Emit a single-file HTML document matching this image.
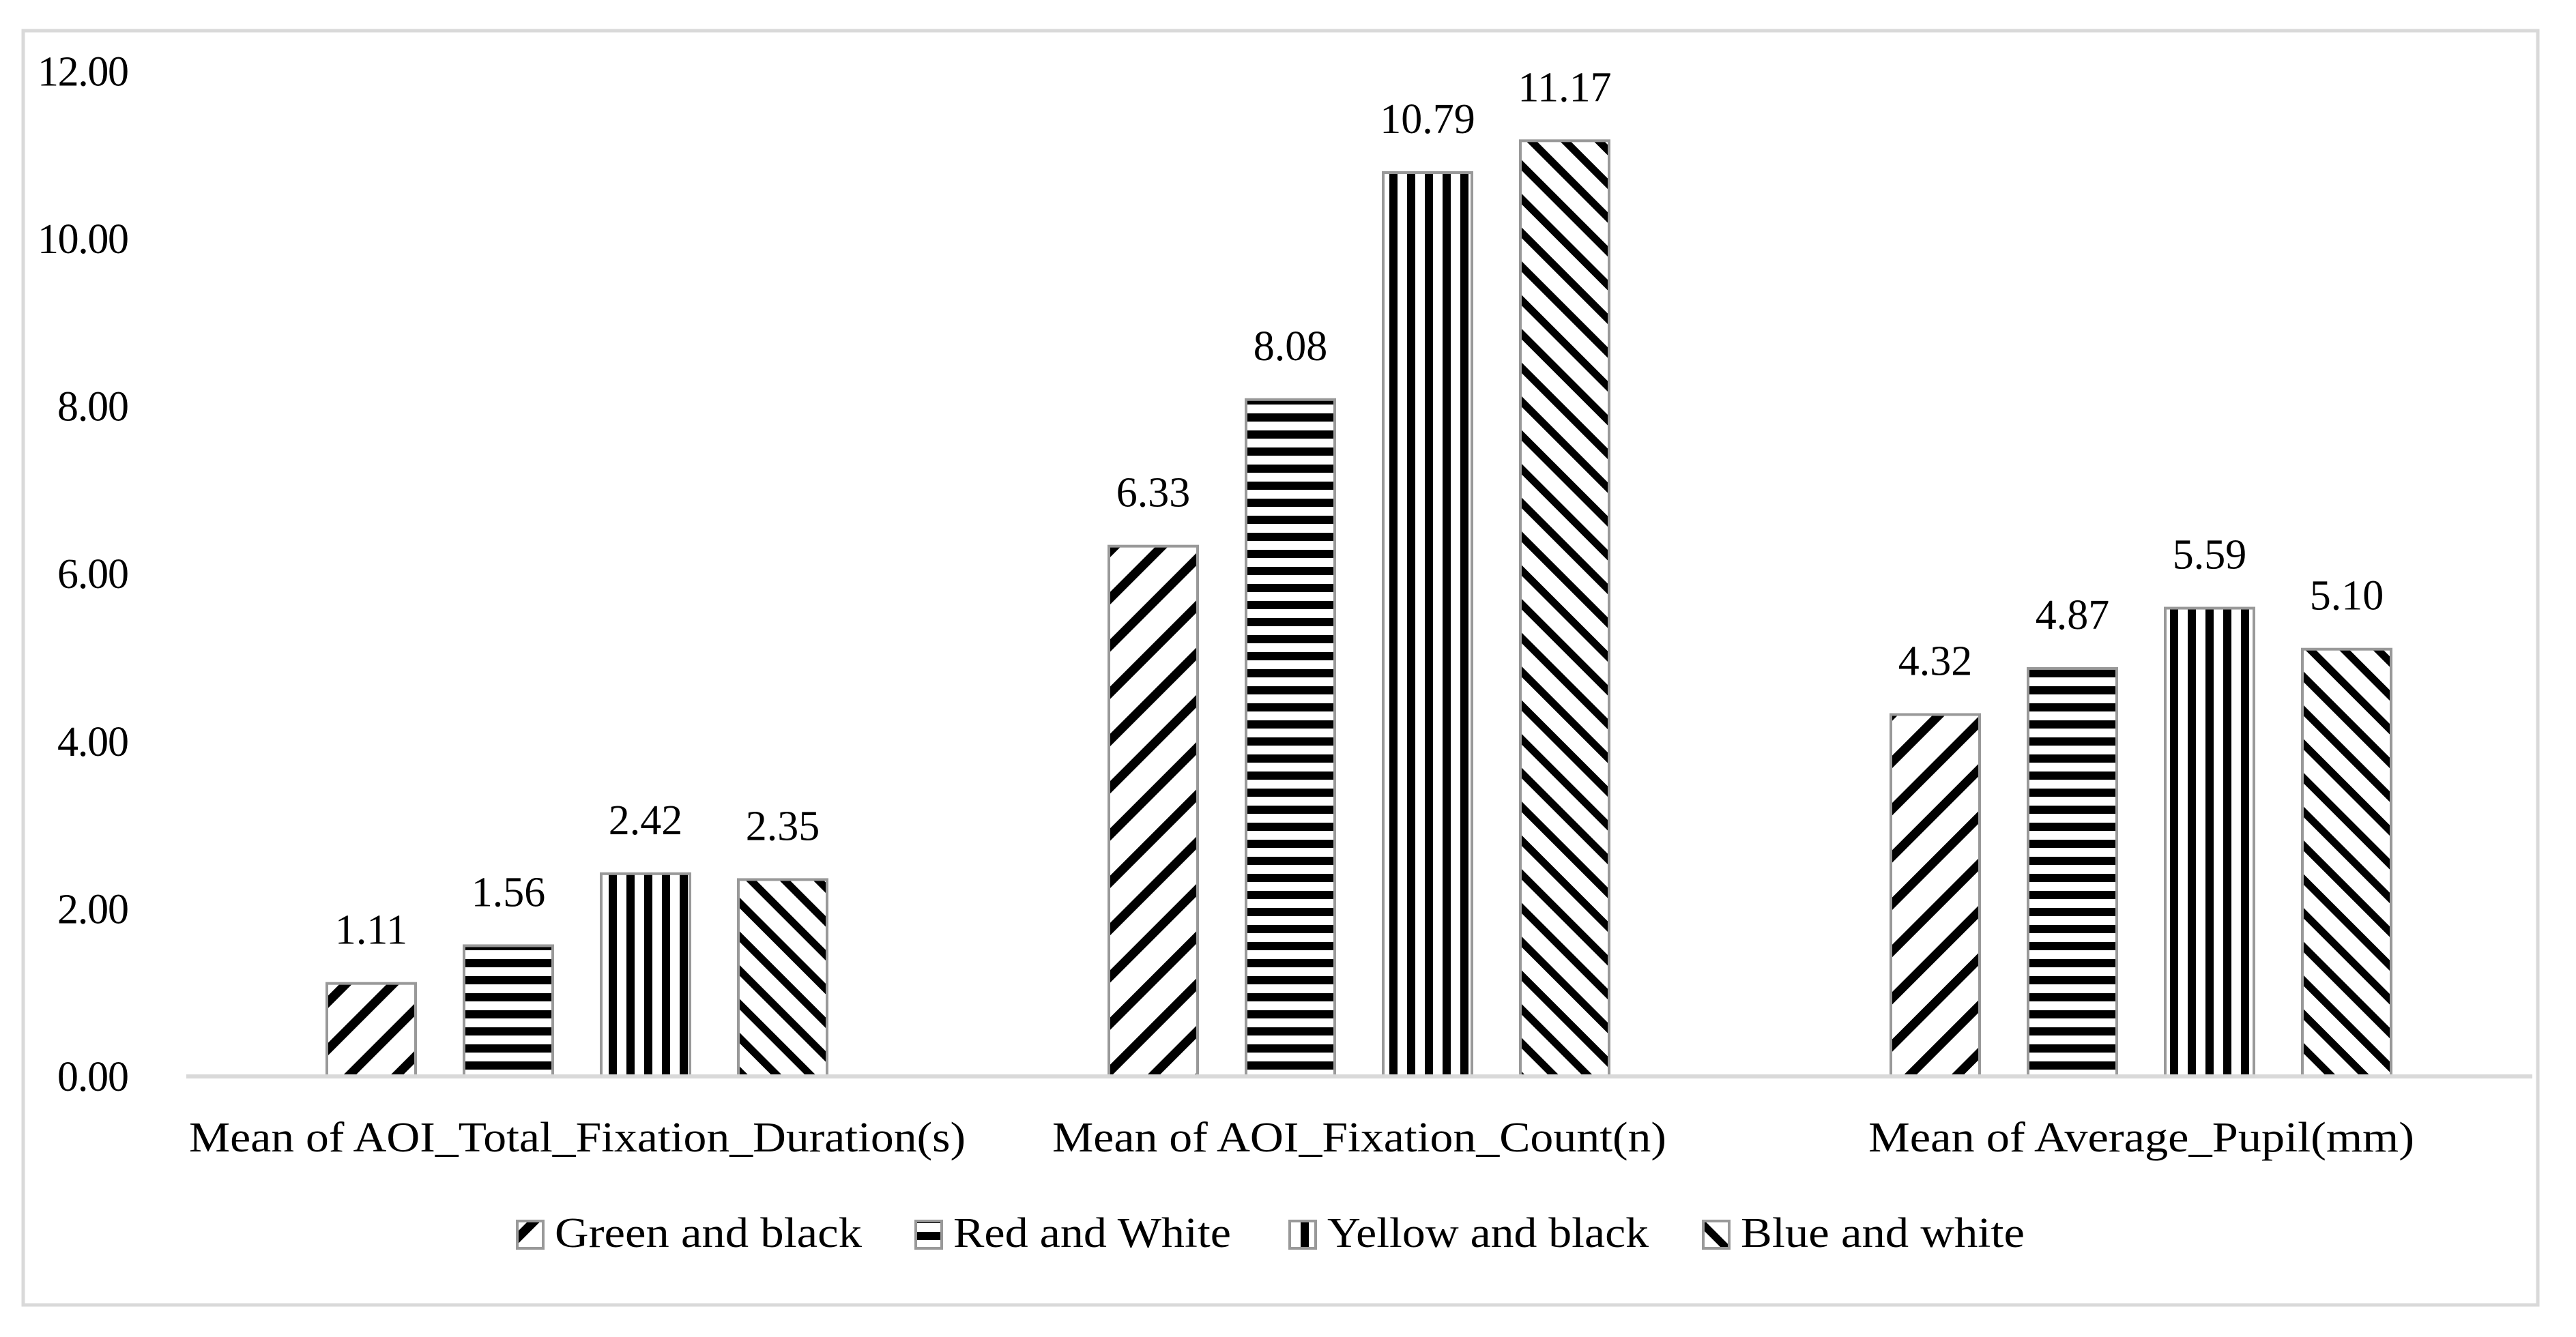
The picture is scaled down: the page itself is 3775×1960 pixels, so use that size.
<!DOCTYPE html>
<html><head><meta charset="utf-8"><style>
html,body{margin:0;padding:0;background:#fff;}
svg{display:block;}
text{font-family:"Liberation Serif",serif;fill:#000;}
</style></head><body>
<svg id="chart" width="3775" height="1960" viewBox="0 0 3775 1960" xmlns="http://www.w3.org/2000/svg">
<defs>
<pattern id="p0" patternUnits="userSpaceOnUse" width="49" height="49" patternTransform="rotate(45)"><rect x="0" y="0" width="13" height="49" fill="#000"/></pattern>
<pattern id="p1" patternUnits="userSpaceOnUse" width="25" height="25"><rect x="0" y="6" width="25" height="12" fill="#000"/></pattern>
<pattern id="p2" patternUnits="userSpaceOnUse" width="26" height="26"><rect x="8" y="0" width="12" height="26" fill="#000"/></pattern>
<pattern id="p3" patternUnits="userSpaceOnUse" width="35" height="35" patternTransform="rotate(-45)"><rect x="0" y="0" width="11" height="35" fill="#000"/></pattern>
</defs>
<rect x="34" y="45" width="3685" height="1868" fill="#fff" stroke="#d9d9d9" stroke-width="5"/>
<g id="yticks"></g>
<g id="bars"></g>
<line x1="273" y1="1578" x2="3711" y2="1578" stroke="#d9d9d9" stroke-width="6"/>
<g id="cats"></g>
<g id="legend"></g>
</svg>
<script>
const categories = ["Mean of AOI_Total_Fixation_Duration(s)", "Mean of AOI_Fixation_Count(n)", "Mean of Average_Pupil(mm)"];
const seriesNames = ["Green and black", "Red and White", "Yellow and black", "Blue and white"];
const greenBlack = [1.11, 6.33, 4.32];
const redWhite = [1.56, 8.08, 4.87];
const yellowBlack = [2.42, 10.79, 5.59];
const blueWhite = [2.35, 11.17, 5.10];
const yTicks = [0, 2, 4, 6, 8, 10, 12];
const yTickLabels = ["0.00", "2.00", "4.00", "6.00", "8.00", "10.00", "12.00"];

const series = [greenBlack, redWhite, yellowBlack, blueWhite];
const NS = "http://www.w3.org/2000/svg";
const plotL = 273, plotR = 3711, y0 = 1578, pxPerUnit = 122.8;
const catW = (plotR - plotL) / categories.length;
function yScale(v){ return y0 - v * pxPerUnit; }
function xBand(ci, si){ const c = plotL + catW*(ci+0.5); return c - 367 + si*201; }
function mk(tag, attrs, parent){ const e=document.createElementNS(NS,tag); for(const k in attrs) e.setAttribute(k, attrs[k]); parent.appendChild(e); return e; }

const gy = document.getElementById("yticks");
yTicks.forEach((t,i)=>{
  const tx = mk("text", {x:189, y:yScale(t)+21, "text-anchor":"end", "font-size":62, textLength:134 - (yTickLabels[i].length<5?0:0)}, gy);
  if (yTickLabels[i].length < 5) tx.setAttribute("textLength", 105);
  tx.textContent = yTickLabels[i];
  
  
});

const gb = document.getElementById("bars");
series.forEach((vals, si)=>{
  vals.forEach((v, ci)=>{
    const x = xBand(ci, si), top = yScale(v);
    const r = mk("rect", {x:x, y:top, width:130, height:y0-top, fill:"#fff"}, gb);
    
    
    const r2 = mk("rect", {x:x, y:top, width:130, height:y0-top, fill:"url(#p"+si+")", stroke:"#999", "stroke-width":4}, gb);
    
    
    const t = mk("text", {x:x+65, y:top-58, "text-anchor":"middle", "font-size":62}, gb);
    t.textContent = v.toFixed(2);
    
    
  });
});

const gc = document.getElementById("cats");
const catWidths = [1138, 900, 800];
categories.forEach((c, ci)=>{
  const t = mk("text", {x:plotL + catW*(ci+0.5), y:1688, "text-anchor":"middle", "font-size":62, textLength:catWidths[ci], lengthAdjust:"spacingAndGlyphs"}, gc);
  t.textContent = c;
  
  
});

const gl = document.getElementById("legend");
const legX = [756, 1340, 1888, 2494];
const legW = [450, 407, 471, 416];
seriesNames.forEach((n, si)=>{
  const g = mk("g", {}, gl);
  
  
  mk("rect", {x:legX[si]+2, y:1790, width:38, height:40, fill:"#fff"}, g);
  const m = mk("rect", {x:legX[si]+2, y:1790, width:38, height:40, fill:"url(#p"+si+")", stroke:"#999", "stroke-width":4}, g);
  
  
  const t = mk("text", {x:legX[si]+57, y:1828, "font-size":62, textLength:legW[si], lengthAdjust:"spacingAndGlyphs"}, g);
  t.textContent = n;
  
  
});
</script>
</body></html>
